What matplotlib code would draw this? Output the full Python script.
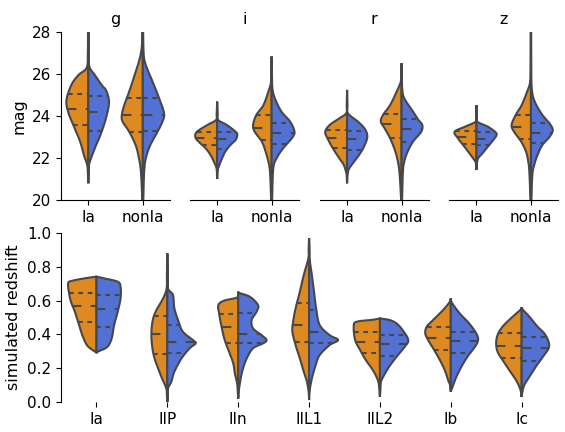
import numpy as np
import matplotlib
matplotlib.use("Agg")
import matplotlib.pyplot as plt

# ---------------- data ----------------
bands = ["g", "i", "r", "z"]
top_categories = ["Ia", "nonIa"]
bottom_categories = ["Ia", "IIP", "IIn", "IIL1", "IIL2", "Ib", "Ic"]

# violin half profiles: (value, half-width in category units); quartiles [q25, q50, q75]
g_Ia_left = [(20.8, 0), (21.3, 0.008), (21.67, 0.02), (22.14, 0.08), (22.78, 0.15), (23.57, 0.275),
             (24.2, 0.37), (24.76, 0.40), (25.48, 0.31), (25.95, 0.18), (26.3, 0.03), (27.0, 0.008), (28.5, 0.005)]
g_Ia_right = [(20.8, 0), (21.4, 0.008), (21.75, 0.02), (22.46, 0.12), (23.25, 0.245), (24.05, 0.34),
              (24.68, 0.38), (25.2, 0.33), (25.48, 0.245), (25.95, 0.12), (26.35, 0.02), (27.0, 0.008), (28.5, 0.005)]
g_Ia_left_q = [23.57, 24.33, 25.05]
g_Ia_right_q = [23.29, 24.18, 24.97]
g_nonIa_left = [(19.5, 0.005), (20.08, 0.01), (21.35, 0.035), (21.98, 0.07), (22.6, 0.13), (23.25, 0.25),
                (23.73, 0.37), (24.05, 0.385), (24.52, 0.34), (25.16, 0.25), (25.95, 0.15), (26.75, 0.055),
                (27.4, 0.015), (28.5, 0.005)]
g_nonIa_right = [(19.5, 0.005), (20.08, 0.01), (21.35, 0.025), (21.98, 0.055), (22.6, 0.135), (23.25, 0.27),
                 (23.73, 0.36), (24.13, 0.39), (24.84, 0.30), (25.63, 0.18), (26.43, 0.055), (27.0, 0.015),
                 (28.5, 0.005)]
g_nonIa_left_q = [23.25, 24.03, 24.87]
g_nonIa_right_q = [23.29, 24.06, 24.84]

i_Ia_left = [(21.0, 0), (21.5, 0.01), (21.83, 0.06), (22.14, 0.12), (22.46, 0.21), (22.78, 0.34), (23.0, 0.40),
             (23.25, 0.37), (23.57, 0.18), (23.81, 0.02), (24.1, 0.008), (24.68, 0)]
i_Ia_right = [(21.0, 0), (21.4, 0.01), (21.59, 0.03), (21.98, 0.09), (22.3, 0.15), (22.62, 0.245), (22.86, 0.34),
              (23.1, 0.37), (23.25, 0.34), (23.57, 0.18), (23.81, 0.02), (24.1, 0.008), (24.68, 0)]
i_Ia_left_q = [22.62, 22.97, 23.25]
i_Ia_right_q = [22.43, 22.92, 23.25]
i_nonIa_left = [(19.5, 0.005), (20.08, 0.01), (21.35, 0.03), (21.83, 0.06), (22.3, 0.11), (22.78, 0.18),
                (23.25, 0.31), (23.57, 0.34), (24.05, 0.28), (24.52, 0.15), (25.16, 0.06), (25.56, 0.015),
                (26.0, 0.006), (26.83, 0)]
i_nonIa_right = [(19.5, 0.005), (20.08, 0.01), (21.5, 0.03), (21.98, 0.09), (22.46, 0.21), (22.94, 0.37),
                 (23.25, 0.42), (23.73, 0.34), (24.21, 0.18), (24.84, 0.06), (25.3, 0.015), (26.0, 0.006),
                 (26.83, 0)]
i_nonIa_left_q = [22.87, 23.44, 24.03]
i_nonIa_right_q = [22.68, 23.19, 23.68]

r_Ia_left = [(20.8, 0), (21.2, 0.008), (21.35, 0.02), (21.67, 0.06), (21.98, 0.14), (22.46, 0.26), (22.94, 0.36),
             (23.25, 0.40), (23.57, 0.32), (23.89, 0.14), (24.13, 0.015), (24.5, 0.006), (25.24, 0)]
r_Ia_right = [(20.8, 0), (21.2, 0.008), (21.5, 0.04), (21.83, 0.13), (22.3, 0.26), (22.78, 0.35), (23.1, 0.37),
              (23.41, 0.32), (23.73, 0.2), (24.13, 0.015), (24.5, 0.006), (25.24, 0)]
r_Ia_left_q = [22.49, 22.97, 23.33]
r_Ia_right_q = [22.40, 22.89, 23.29]
r_nonIa_left = [(19.5, 0.005), (20.08, 0.01), (21.35, 0.04), (21.98, 0.08), (22.46, 0.135), (22.94, 0.21),
                (23.41, 0.31), (23.73, 0.38), (24.05, 0.34), (24.52, 0.21), (25.16, 0.09), (25.63, 0.015),
                (26.0, 0.006), (26.51, 0)]
r_nonIa_right = [(19.5, 0.005), (20.08, 0.01), (21.35, 0.025), (21.83, 0.05), (22.3, 0.11), (22.78, 0.21),
                 (23.25, 0.36), (23.57, 0.38), (23.81, 0.31), (24.21, 0.21), (24.84, 0.05), (25.3, 0.012),
                 (26.0, 0.006), (26.51, 0)]
r_nonIa_left_q = [22.97, 23.60, 24.11]
r_nonIa_right_q = [22.78, 23.38, 23.87]

z_Ia_left = [(21.43, 0), (21.7, 0.008), (21.83, 0.02), (21.98, 0.06), (22.3, 0.15), (22.62, 0.245),
             (22.94, 0.34), (23.25, 0.40), (23.49, 0.21), (23.73, 0.015), (24.0, 0.006), (24.52, 0)]
z_Ia_right = [(21.43, 0), (21.7, 0.008), (21.98, 0.03), (22.22, 0.11), (22.54, 0.21), (22.86, 0.31),
              (23.1, 0.37), (23.25, 0.34), (23.49, 0.21), (23.73, 0.015), (24.0, 0.006), (24.52, 0)]
z_Ia_left_q = [22.68, 23.0, 23.29]
z_Ia_right_q = [22.62, 22.92, 23.25]
z_nonIa_left = [(19.5, 0.005), (20.08, 0.01), (21.35, 0.03), (21.83, 0.05), (22.3, 0.09), (22.78, 0.18),
                (23.25, 0.31), (23.57, 0.355), (24.05, 0.28), (24.52, 0.17), (25.16, 0.07), (25.63, 0.015),
                (26.5, 0.006), (28.5, 0.004)]
z_nonIa_right = [(19.5, 0.005), (20.08, 0.01), (21.19, 0.025), (21.67, 0.06), (22.14, 0.12), (22.62, 0.21),
                 (23.0, 0.34), (23.33, 0.40), (23.65, 0.34), (24.05, 0.21), (24.68, 0.07), (25.3, 0.015),
                 (26.5, 0.006), (28.5, 0.004)]
z_nonIa_left_q = [22.92, 23.49, 24.05]
z_nonIa_right_q = [22.70, 23.19, 23.67]

Ia_left = [(0.294, 0), (0.308, 0.056), (0.337, 0.135), (0.396, 0.2), (0.456, 0.245), (0.535, 0.305),
           (0.594, 0.36), (0.653, 0.39), (0.702, 0.40), (0.716, 0.36), (0.732, 0.17), (0.742, 0)]
Ia_right = [(0.294, 0), (0.302, 0.04), (0.327, 0.155), (0.377, 0.215), (0.456, 0.25), (0.535, 0.30),
            (0.613, 0.34), (0.682, 0.34), (0.712, 0.30), (0.732, 0.11), (0.742, 0)]
Ia_left_q = [0.475, 0.57, 0.647]
Ia_right_q = [0.446, 0.55, 0.633]
IIP_left = [(0.0, 0), (0.04, 0.006), (0.081, 0.015), (0.14, 0.075), (0.199, 0.13), (0.258, 0.18), (0.318, 0.21),
            (0.396, 0.225), (0.475, 0.21), (0.535, 0.165), (0.613, 0.06), (0.672, 0.01), (0.75, 0.006), (0.88, 0)]
IIP_right = [(0.0, 0), (0.04, 0.006), (0.081, 0.01), (0.12, 0.056), (0.18, 0.1), (0.258, 0.2), (0.318, 0.315),
             (0.347, 0.40), (0.367, 0.36), (0.416, 0.22), (0.475, 0.16), (0.554, 0.1), (0.633, 0.08),
             (0.672, 0.01), (0.75, 0.006), (0.88, 0)]
IIP_left_q = [0.286, 0.40, 0.511]
IIP_right_q = [0.288, 0.357, 0.456]
IIn_left = [(0.02, 0), (0.06, 0.006), (0.11, 0.015), (0.17, 0.047), (0.229, 0.07), (0.288, 0.12), (0.367, 0.19),
            (0.446, 0.235), (0.525, 0.27), (0.574, 0.28), (0.60, 0.2), (0.62, 0.01), (0.653, 0)]
IIn_right = [(0.02, 0), (0.06, 0.006), (0.10, 0.02), (0.18, 0.056), (0.258, 0.12), (0.318, 0.21), (0.347, 0.35),
             (0.367, 0.40), (0.396, 0.33), (0.436, 0.21), (0.485, 0.19), (0.535, 0.26), (0.574, 0.28),
             (0.623, 0.165), (0.645, 0.02), (0.653, 0)]
IIn_left_q = [0.347, 0.446, 0.519]
IIn_right_q = [0.351, 0.40, 0.525]
IIL1_left = [(0.012, 0), (0.06, 0.006), (0.12, 0.03), (0.18, 0.075), (0.258, 0.13), (0.337, 0.19), (0.416, 0.235),
             (0.475, 0.225), (0.554, 0.19), (0.653, 0.13), (0.751, 0.075), (0.85, 0.01), (0.9, 0.006), (0.968, 0)]
IIL1_right = [(0.012, 0), (0.06, 0.006), (0.14, 0.04), (0.219, 0.094), (0.278, 0.15), (0.337, 0.29),
              (0.367, 0.41), (0.396, 0.29), (0.456, 0.15), (0.554, 0.1), (0.653, 0.07), (0.751, 0.04),
              (0.84, 0.01), (0.9, 0.006), (0.968, 0)]
IIL1_left_q = [0.357, 0.458, 0.588]
IIL1_right_q = [0.351, 0.416, 0.544]
IIL2_left = [(0.03, 0), (0.08, 0.008), (0.13, 0.03), (0.189, 0.1), (0.249, 0.2), (0.308, 0.28), (0.367, 0.35),
             (0.446, 0.37), (0.475, 0.33), (0.487, 0.1), (0.495, 0)]
IIL2_right = [(0.03, 0), (0.08, 0.008), (0.12, 0.015), (0.15, 0.047), (0.209, 0.13), (0.268, 0.235),
              (0.327, 0.35), (0.367, 0.40), (0.426, 0.32), (0.465, 0.235), (0.485, 0.14), (0.495, 0)]
IIL2_left_q = [0.288, 0.355, 0.414]
IIL2_right_q = [0.274, 0.345, 0.396]
Ib_left = [(0.061, 0), (0.1, 0.01), (0.13, 0.038), (0.189, 0.085), (0.249, 0.155), (0.308, 0.235), (0.367, 0.32),
           (0.406, 0.36), (0.446, 0.34), (0.485, 0.25), (0.544, 0.11), (0.59, 0.02), (0.613, 0)]
Ib_right = [(0.061, 0), (0.09, 0.025), (0.15, 0.08), (0.209, 0.15), (0.268, 0.235), (0.327, 0.34), (0.367, 0.385),
            (0.406, 0.36), (0.465, 0.26), (0.525, 0.125), (0.585, 0.02), (0.613, 0)]
Ib_left_q = [0.31, 0.381, 0.446]
Ib_right_q = [0.29, 0.363, 0.414]
Ic_left = [(0.03, 0), (0.06, 0.01), (0.09, 0.033), (0.13, 0.08), (0.189, 0.175), (0.249, 0.27), (0.298, 0.34),
           (0.347, 0.36), (0.396, 0.34), (0.446, 0.27), (0.505, 0.127), (0.545, 0.02), (0.56, 0)]
Ic_right = [(0.03, 0), (0.06, 0.01), (0.101, 0.038), (0.15, 0.11), (0.209, 0.2), (0.268, 0.3), (0.318, 0.38),
            (0.357, 0.38), (0.406, 0.32), (0.446, 0.225), (0.505, 0.11), (0.545, 0.02), (0.56, 0)]
Ic_left_q = [0.259, 0.334, 0.406]
Ic_right_q = [0.245, 0.318, 0.383]

top_violins = {
    "g": [(g_Ia_left, g_Ia_left_q, g_Ia_right, g_Ia_right_q), (g_nonIa_left, g_nonIa_left_q, g_nonIa_right, g_nonIa_right_q)],
    "i": [(i_Ia_left, i_Ia_left_q, i_Ia_right, i_Ia_right_q), (i_nonIa_left, i_nonIa_left_q, i_nonIa_right, i_nonIa_right_q)],
    "r": [(r_Ia_left, r_Ia_left_q, r_Ia_right, r_Ia_right_q), (r_nonIa_left, r_nonIa_left_q, r_nonIa_right, r_nonIa_right_q)],
    "z": [(z_Ia_left, z_Ia_left_q, z_Ia_right, z_Ia_right_q), (z_nonIa_left, z_nonIa_left_q, z_nonIa_right, z_nonIa_right_q)],
}
bottom_violins = [
    (Ia_left, Ia_left_q, Ia_right, Ia_right_q),
    (IIP_left, IIP_left_q, IIP_right, IIP_right_q),
    (IIn_left, IIn_left_q, IIn_right, IIn_right_q),
    (IIL1_left, IIL1_left_q, IIL1_right, IIL1_right_q),
    (IIL2_left, IIL2_left_q, IIL2_right, IIL2_right_q),
    (Ib_left, Ib_left_q, Ib_right, Ib_right_q),
    (Ic_left, Ic_left_q, Ic_right, Ic_right_q),
]

ORANGE = "#df8a20"
BLUE = "#5271d3"
EDGE = "#474747"
LW = 1.5


def smooth(pts, n=10):
    P = np.asarray(pts, dtype=float)
    P = np.vstack([P[0], P, P[-1]])
    out = []
    t = np.linspace(0, 1, n, endpoint=False)[:, None]
    for k in range(1, len(P) - 2):
        p0, p1, p2, p3 = P[k - 1], P[k], P[k + 1], P[k + 2]
        seg = 0.5 * ((2 * p1) + (-p0 + p2) * t + (2 * p0 - 5 * p1 + 4 * p2 - p3) * t ** 2
                     + (-p0 + 3 * p1 - 3 * p2 + p3) * t ** 3)
        out.append(seg)
    out.append(P[-2][None, :])
    S = np.vstack(out)
    S[:, 1] = np.clip(S[:, 1], 0, None)
    return S


def draw_half(ax, center, prof, quarts, side, color):
    S = smooth(prof)
    y = S[:, 0]
    w = S[:, 1]
    xs = center + side * w
    px = np.concatenate([xs, [center, center]])
    py = np.concatenate([y, [y[-1], y[0]]])
    ax.fill(px, py, facecolor=color, edgecolor=EDGE, linewidth=LW, zorder=2)
    order = np.argsort(y)
    for j, q in enumerate(quarts):
        d = np.interp(q, y[order], w[order])
        dashes = [LW * 3] * 2 if j == 1 else [LW * 1.5] * 2
        if side < 0:
            xx = [center - d, center]
        else:
            xx = [center, center + d]
        ax.plot(xx, [q, q], color=EDGE, linewidth=LW, dashes=dashes, zorder=3,
                solid_capstyle="butt", dash_capstyle="butt")


fig = plt.figure(figsize=(5.65, 4.32), dpi=100)
plt.rcParams["font.family"] = "DejaVu Sans"

top_lefts = [0.108, 0.336, 0.566, 0.795]
for k, band in enumerate(bands):
    ax = fig.add_axes([top_lefts[k], 0.537, 0.193, 0.389])
    for c, (lp, lq, rp, rq) in enumerate(top_violins[band]):
        draw_half(ax, c, lp, lq, -1, ORANGE)
        draw_half(ax, c, rp, rq, +1, BLUE)
    ax.set_xlim(-0.5, 1.5)
    ax.set_ylim(20, 28)
    ax.set_xticks(range(len(top_categories)))
    ax.set_xticklabels(top_categories, fontsize=11)
    ax.set_title(band, fontsize=11.5)
    ax.spines["top"].set_visible(False)
    ax.spines["right"].set_visible(False)
    if k == 0:
        ax.set_yticks([20, 22, 24, 26, 28])
        ax.tick_params(axis="y", labelsize=11)
        ax.set_ylabel("mag", fontsize=11.5)
    else:
        ax.spines["left"].set_visible(False)
        ax.set_yticks([])

axb = fig.add_axes([0.108, 0.0694, 0.878, 0.391])
for c, (lp, lq, rp, rq) in enumerate(bottom_violins):
    draw_half(axb, c, lp, lq, -1, ORANGE)
    draw_half(axb, c, rp, rq, +1, BLUE)
axb.set_xlim(-0.5, len(bottom_categories) - 0.5)
axb.set_ylim(0, 1)
axb.set_xticks(range(len(bottom_categories)))
axb.set_xticklabels(bottom_categories, fontsize=11)
axb.set_yticks([0.0, 0.2, 0.4, 0.6, 0.8, 1.0])
axb.tick_params(axis="y", labelsize=11)
axb.set_ylabel("simulated redshift", fontsize=11.5)
for s in ["top", "right", "bottom"]:
    axb.spines[s].set_visible(False)

fig.savefig("out.png", dpi=100)
